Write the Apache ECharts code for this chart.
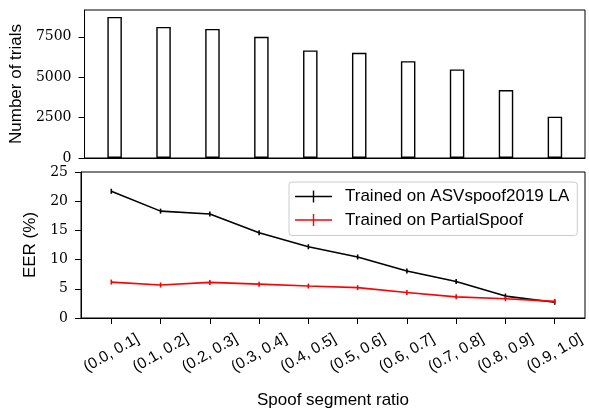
<!DOCTYPE html>
<html>
<head>
<meta charset="utf-8">
<script src="https://cdn.jsdelivr.net/npm/echarts@6/dist/echarts.min.js"></script>
<style>html,body{margin:0;padding:0;background:#fff;}#c{width:589px;height:410px;}</style>
</head>
<body>
<div id="c"></div>
<script>
const categories = ['(0.0, 0.1]','(0.1, 0.2]','(0.2, 0.3]','(0.3, 0.4]','(0.4, 0.5]','(0.5, 0.6]','(0.6, 0.7]','(0.7, 0.8]','(0.8, 0.9]','(0.9, 1.0]'];
const trials = [8730, 8115, 7990, 7500, 6655, 6510, 5995, 5480, 4205, 2555];
const eerASV = [21.7, 18.3, 17.8, 14.6, 12.2, 10.45, 8.05, 6.25, 3.75, 2.7];
const eerPS = [6.15, 5.65, 6.1, 5.8, 5.47, 5.2, 4.36, 3.62, 3.29, 2.85];
const trialTicks = [0, 2500, 5000, 7500];
const eerTicks = [0, 5, 10, 15, 20, 25];
const seriesNames = ['Trained on ASVspoof2019 LA', 'Trained on PartialSpoof'];

const idx = categories.map((_, i) => i);
const sans = 'Liberation Sans';
const serif = 'DejaVu Serif';
const plusIcon = 'path://M0,5.3L37,5.3L37,6.7L0,6.7Z M17.8,0L19.2,0L19.2,12L17.8,12Z';

const chart = echarts.init(document.getElementById('c'), null, {renderer: 'canvas'});
const xBase = {
  type: 'value', min: -0.615, max: 9.615,
  splitLine: {show: false},
  axisLine: {show: true, onZero: false, lineStyle: {color: '#000', width: 1}}
};
chart.setOption({
  animation: false,
  backgroundColor: '#fff',
  grid: [
    {left: 81, right: 4, top: 10, height: 148, show: true, borderColor: '#000', borderWidth: 1, backgroundColor: 'transparent'},
    {left: 81, right: 4, top: 172, height: 149, show: true, borderColor: '#000', borderWidth: 1, backgroundColor: 'transparent'}
  ],
  xAxis: [
    Object.assign({}, xBase, {gridIndex: 0, axisTick: {show: false}, axisLabel: {show: false}}),
    Object.assign({}, xBase, {
      gridIndex: 1,
      name: 'Spoof segment ratio', nameLocation: 'middle', nameGap: 74,
      nameTextStyle: {fontFamily: sans, fontSize: 17, color: '#000'},
      axisTick: {show: true, length: 6, customValues: idx, lineStyle: {color: '#000'}},
      axisLabel: {
        customValues: idx, rotate: 30, align: 'center', verticalAlign: 'middle', margin: 35,
        fontFamily: sans, fontSize: 15.5, color: '#000',
        formatter: v => categories[Math.round(v)]
      }
    })
  ],
  yAxis: [
    {
      type: 'value', gridIndex: 0, min: 0, max: 9160,
      name: 'Number of trials', nameLocation: 'middle', nameGap: 57,
      nameTextStyle: {fontFamily: sans, fontSize: 17, color: '#000'},
      splitLine: {show: false},
      axisLine: {show: true, onZero: false, lineStyle: {color: '#000', width: 1}},
      axisTick: {show: true, length: 6, customValues: trialTicks, lineStyle: {color: '#000'}},
      axisLabel: {customValues: trialTicks, margin: 13, fontFamily: serif, fontSize: 14, color: '#000', formatter: v => String(v)}
    },
    {
      type: 'value', gridIndex: 1, min: 0, max: 25, interval: 5,
      name: 'EER (%)', nameLocation: 'middle', nameGap: 34,
      nameTextStyle: {fontFamily: sans, fontSize: 17, color: '#000'},
      splitLine: {show: false},
      axisLine: {show: true, onZero: false, lineStyle: {color: '#000', width: 1}},
      axisTick: {show: true, length: 6, customValues: eerTicks, lineStyle: {color: '#000'}},
      axisLabel: {customValues: eerTicks, margin: 13, fontFamily: serif, fontSize: 14, color: '#000', formatter: v => String(v)}
    }
  ],
  legend: {
    orient: 'vertical', left: 289, top: 182,
    padding: [6, 8, 7, 6], itemGap: 6.5, itemWidth: 37, itemHeight: 14,
    borderColor: '#cccccc', borderWidth: 1, borderRadius: 3,
    backgroundColor: 'rgba(255,255,255,0.8)',
    textStyle: {fontFamily: sans, fontSize: 17, color: '#000', padding: [0, 0, 0, 8]},
    data: [{name: seriesNames[0], icon: plusIcon}, {name: seriesNames[1], icon: plusIcon}]
  },
  series: [
    {
      type: 'bar', xAxisIndex: 0, yAxisIndex: 0, barWidth: 14.5,
      itemStyle: {color: '#fff', borderColor: '#000', borderWidth: 1.4},
      data: trials.map((v, i) => [i, v])
    },
    {
      name: seriesNames[0], type: 'line', xAxisIndex: 1, yAxisIndex: 1,
      color: '#000', symbol: 'rect', symbolSize: [1.6, 5], showSymbol: true,
      lineStyle: {color: '#000', width: 1.6}, itemStyle: {color: '#000'},
      data: eerASV.map((v, i) => [i, v])
    },
    {
      name: seriesNames[1], type: 'line', xAxisIndex: 1, yAxisIndex: 1,
      color: '#ff0000', symbol: 'rect', symbolSize: [1.6, 5], showSymbol: true,
      lineStyle: {color: '#ff0000', width: 1.6}, itemStyle: {color: '#ff0000'},
      data: eerPS.map((v, i) => [i, v])
    }
  ]
});
</script>
</body>
</html>
